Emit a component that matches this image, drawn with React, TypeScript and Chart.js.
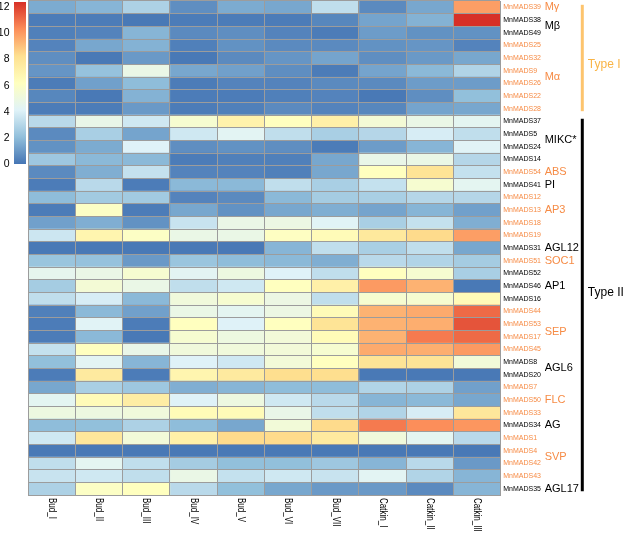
import React, { useEffect, useRef } from 'react';
import { Chart, registerables } from 'chart.js';

Chart.register(...registerables);

// ---------- data ----------
const genes = [
  'MnMADS39', 'MnMADS38', 'MnMADS49', 'MnMADS25', 'MnMADS32', 'MnMADS9', 'MnMADS26', 'MnMADS22', 'MnMADS28',
  'MnMADS37', 'MnMADS5', 'MnMADS24', 'MnMADS14', 'MnMADS54', 'MnMADS41', 'MnMADS12', 'MnMADS13', 'MnMADS18',
  'MnMADS19', 'MnMADS31', 'MnMADS51', 'MnMADS52', 'MnMADS46', 'MnMADS16', 'MnMADS44', 'MnMADS53', 'MnMADS17',
  'MnMADS45', 'MnMADS8', 'MnMADS20', 'MnMADS7', 'MnMADS50', 'MnMADS33', 'MnMADS34', 'MnMADS1', 'MnMADS4',
  'MnMADS42', 'MnMADS43', 'MnMADS35',
];
// 1 = orange label, 0 = black label
const geneHighlighted = [
  1, 0, 0, 1, 1, 1, 1, 1, 1,
  0, 0, 0, 0, 1, 0, 1, 1, 1, 1, 0, 1,
  0, 0, 0, 1, 1, 1, 1, 0, 0, 1, 1, 1, 0, 1, 1, 1, 1, 0,
];

const columns = ['Bud_I', 'Bud_II', 'Bud_III', 'Bud_IV', 'Bud_V', 'Bud_VI', 'Bud_VII', 'Catkin_I', 'Catkin_II', 'Catkin_III'];

const budI = [1.5, 0.2, 0.3, 0.4, 0.7, 0.9, 0.2, 0.5, 0.2, 3.1, 0.6, 0.8, 2.4, 0.6, 0.2, 2.0, 0.2, 1.2, 3.6, 0.1, 2.3, 4.5, 2.6, 3.3, 0.3, 0.2, 0.2, 3.4, 2.1, 0.2, 1.4, 4.4, 5.0, 2.0, 3.7, 0.1, 3.3, 3.5, 2.8];
const budII = [1.8, 0.2, 0.4, 1.4, 0.1, 2.2, 1.2, 0.1, 0.2, 4.7, 2.7, 1.5, 1.9, 1.6, 3.1, 2.5, 6.0, 1.6, 6.9, 0.1, 2.2, 4.8, 5.4, 3.9, 1.9, 4.2, 1.9, 6.2, 4.3, 7.6, 2.7, 6.5, 5.0, 2.1, 7.8, 0.1, 4.4, 3.7, 6.0];
const budIII = [2.8, 0.1, 1.8, 1.7, 1.0, 4.8, 2.0, 1.7, 1.0, 3.7, 1.3, 4.1, 1.9, 3.4, 0.2, 2.5, 0.2, 0.8, 6.0, 0.1, 1.0, 5.6, 4.8, 1.9, 1.2, 0.2, 0.1, 4.7, 1.8, 0.2, 2.4, 7.4, 5.2, 2.8, 5.3, 0.1, 3.3, 3.3, 6.2];
const budIV = [0.7, 0.2, 0.6, 0.3, 0.1, 1.4, 0.2, 0.2, 0.2, 5.6, 3.7, 0.7, 0.2, 0.4, 1.9, 0.4, 1.4, 3.5, 4.8, 0.1, 2.3, 4.3, 3.3, 5.2, 4.8, 6.2, 5.6, 5.2, 4.1, 6.9, 1.6, 4.1, 6.5, 2.0, 7.2, 0.1, 2.6, 4.8, 3.1];
const budV = [1.5, 0.2, 0.7, 0.8, 0.6, 1.2, 0.4, 0.2, 0.3, 7.1, 4.3, 0.8, 0.3, 0.4, 1.9, 0.6, 0.8, 4.8, 4.8, 0.1, 2.0, 5.0, 3.7, 5.6, 4.4, 4.1, 5.0, 5.2, 3.7, 7.6, 1.8, 5.0, 6.5, 1.4, 8.4, 0.1, 2.1, 3.4, 2.1];
const budVI = [1.4, 0.2, 0.4, 0.6, 0.9, 0.7, 0.4, 0.3, 0.6, 6.2, 3.3, 0.7, 0.3, 0.3, 3.3, 1.9, 1.4, 4.9, 6.1, 1.8, 1.9, 4.1, 6.2, 4.9, 4.9, 6.2, 5.3, 5.3, 5.3, 8.3, 2.0, 3.7, 4.7, 5.3, 8.4, 0.1, 2.1, 3.7, 1.4];
const budVII = [3.3, 0.5, 0.2, 0.6, 1.3, 0.2, 0.6, 0.4, 0.4, 7.2, 2.7, 0.2, 1.4, 1.4, 2.7, 2.6, 1.6, 4.2, 6.5, 3.3, 1.6, 3.3, 7.2, 3.3, 6.5, 8.0, 6.5, 5.6, 6.2, 8.3, 2.0, 3.1, 3.3, 8.4, 7.6, 0.1, 2.4, 3.5, 1.0];
const catkinI = [0.6, 1.3, 1.1, 0.8, 0.7, 1.3, 0.6, 0.1, 0.5, 5.4, 3.0, 1.1, 4.7, 6.2, 3.4, 2.7, 1.3, 2.7, 7.7, 2.7, 3.1, 6.2, 10.0, 5.6, 9.4, 9.4, 9.4, 9.6, 8.0, 0.1, 2.9, 1.8, 2.9, 10.75, 5.2, 0.1, 1.8, 4.3, 1.0];
const catkinII = [1.4, 1.7, 0.8, 0.9, 1.0, 1.9, 1.1, 0.7, 1.3, 4.8, 3.9, 1.8, 4.8, 8.0, 5.6, 3.0, 1.8, 3.4, 8.4, 3.3, 2.9, 5.6, 9.4, 5.6, 9.6, 9.5, 10.75, 9.5, 8.0, 0.1, 2.8, 1.9, 3.9, 10.3, 4.4, 0.1, 3.1, 2.9, 0.6];
const catkinIII = [9.9, 12.4, 0.8, 0.4, 1.4, 2.9, 1.1, 2.1, 1.4, 4.4, 3.3, 4.2, 3.0, 3.4, 4.4, 3.0, 1.2, 1.6, 9.9, 1.4, 2.6, 2.7, 0.1, 6.5, 11.1, 11.6, 11.1, 10.0, 5.3, 0.1, 1.2, 1.4, 7.8, 10.1, 3.1, 0.1, 1.0, 1.8, 1.8];

// family labels (row position = index in genes, may be between rows)
const familyNames = ['Mγ', 'Mβ', 'Mα', 'MIKC*', 'ABS', 'PI', 'AP3', 'AGL12', 'SOC1', 'AP1', 'SEP', 'AGL6', 'FLC', 'AG', 'SVP', 'AGL17'];
const familyRows = [0, 1.5, 5.5, 10.5, 13, 14, 16, 19, 20, 22, 25.6, 28.5, 31, 33, 35.5, 38];
const familyHighlighted = [1, 0, 1, 0, 1, 0, 1, 0, 1, 0, 1, 0, 1, 0, 1, 0];

// type brackets
const typeNames = ['Type I', 'Type II'];
const typeFirstRow = [0, 9];
const typeLastRow = [8, 38];
const typeLabelRow = [4.55, 22.5];

// colour scale
const legendMin = 0;
const legendMax = 12.4;
const legendTicks = [0, 2, 4, 6, 8, 10, 12];
const paletteStops = ['#4575B4', '#91BFDB', '#E0F3F8', '#FFFFBF', '#FEE090', '#FC8D59', '#D73027'];

// ---------- styling ----------
const ORANGE = '#F68B45';
const TYPE1_LINE = '#FDC46E';
const TYPE1_TEXT = '#F9B446';
const GRID = '#9c9c9c';
const SANS = "'Liberation Sans', Arial, Helvetica, sans-serif";

function hexToRgb(h: string) {
  const n = parseInt(h.slice(1), 16);
  return [(n >> 16) & 255, (n >> 8) & 255, n & 255];
}
const stopRgb = paletteStops.map(hexToRgb);

function colorFor(v: number) {
  const t = Math.max(0, Math.min(1, (v - legendMin) / (legendMax - legendMin))) * (stopRgb.length - 1);
  const i = Math.min(stopRgb.length - 2, Math.floor(t));
  const f = t - i;
  const a = stopRgb[i];
  const b = stopRgb[i + 1];
  const c = a.map((x, k) => Math.round(x + (b[k] - x) * f));
  return `rgb(${c[0]},${c[1]},${c[2]})`;
}

export default function App() {
  const mainRef = useRef<HTMLCanvasElement>(null);
  const legendRef = useRef<HTMLCanvasElement>(null);

  useEffect(() => {
    const seriesByColumn = [budI, budII, budIII, budIV, budV, budVI, budVII, catkinI, catkinII, catkinIII];

    const annot = {
      id: 'heatAnnot',
      afterDraw(chart: any) {
        const { ctx } = chart;
        const xs = chart.scales.x;
        const ys = chart.scales.y;
        const fam = chart.scales.fam;
        const rowH = ys.getPixelForValue(1) - ys.getPixelForValue(0);
        ctx.save();
        // column labels (rotated clockwise, slightly condensed)
        ctx.fillStyle = '#000';
        ctx.font = `10px ${SANS}`;
        ctx.textAlign = 'left';
        ctx.textBaseline = 'middle';
        columns.forEach((name, c) => {
          const px = xs.getPixelForValue(c + 0.5);
          ctx.save();
          ctx.translate(px, ys.bottom + 3);
          ctx.rotate(Math.PI / 2);
          ctx.scale(0.8, 1);
          ctx.fillText(name, 0, 0);
          ctx.restore();
        });
        // type brackets
        const bx = fam.right + 1.6;
        typeNames.forEach((name, i) => {
          const top = ys.getPixelForValue(typeFirstRow[i]) - rowH / 2 + 0.3 * rowH;
          const bot = ys.getPixelForValue(typeLastRow[i]) + rowH / 2 - 0.3 * rowH;
          ctx.strokeStyle = i === 0 ? TYPE1_LINE : '#000';
          ctx.lineWidth = 3;
          ctx.beginPath();
          ctx.moveTo(bx, top);
          ctx.lineTo(bx, bot);
          ctx.stroke();
          ctx.fillStyle = i === 0 ? TYPE1_TEXT : '#000';
          ctx.font = `12px ${SANS}`;
          ctx.textAlign = 'left';
          ctx.textBaseline = 'middle';
          ctx.fillText(name, bx + 5.5, fam.getPixelForValue(typeLabelRow[i]));
        });
        ctx.restore();
      },
    };

    const main = new Chart(mainRef.current as HTMLCanvasElement, {
      type: 'bar',
      data: {
        labels: genes,
        datasets: seriesByColumn.map((vals, c) => ({
          label: columns[c],
          data: vals.map(() => 1),
          backgroundColor: vals.map(colorFor),
          borderWidth: 0,
          barPercentage: 1,
          categoryPercentage: 1,
        })),
      },
      options: {
        indexAxis: 'y',
        responsive: false,
        animation: false,
        layout: { padding: { left: 28, top: 1, right: 44.3, bottom: 44 } },
        plugins: { legend: { display: false }, tooltip: { enabled: false } },
        scales: {
          x: {
            type: 'linear',
            stacked: true,
            min: 0,
            max: columns.length,
            position: 'bottom',
            ticks: { display: false, stepSize: 1 },
            grid: { color: GRID, lineWidth: 1, drawTicks: false, z: 1 },
            border: { color: GRID, z: 1 },
            afterFit: (s: any) => { s.height = 0; s.paddingLeft = 0; s.paddingRight = 0; },
          },
          y: {
            type: 'category',
            stacked: true,
            position: 'right',
            offset: true,
            grid: { offset: true, color: GRID, lineWidth: 1, drawTicks: false, z: 1 },
            border: { color: GRID, z: 1 },
            ticks: {
              autoSkip: false,
              padding: 2.5,
              font: { family: SANS, size: 7 },
              color: (ctx: any) => (geneHighlighted[ctx.index] ? ORANGE : '#000'),
            },
            afterFit: (s: any) => { s.width = 44; s.paddingTop = 0; s.paddingBottom = 0; },
          },
          fam: {
            type: 'linear',
            axis: 'y',
            position: 'right',
            weight: 1,
            offset: false,
            min: -0.5,
            max: genes.length - 0.5,
            reverse: true,
            grid: { display: false, drawTicks: false, offset: false },
            border: { display: false },
            afterBuildTicks: (s: any) => { s.ticks = familyRows.map((v) => ({ value: v })); },
            ticks: {
              autoSkip: false,
              padding: 0,
              font: { family: SANS, size: 11 },
              color: (ctx: any) => (familyHighlighted[ctx.index] ? ORANGE : '#000'),
              callback: (_v: any, i: number) => familyNames[i],
            },
            afterFit: (s: any) => { s.width = 36; s.paddingTop = 0; s.paddingBottom = 0; },
          },
        },
      },
      plugins: [annot],
    } as any);

    const legend = new Chart(legendRef.current as HTMLCanvasElement, {
      type: 'bar',
      data: {
        labels: ['scale'],
        datasets: [{
          data: [[legendMin, legendMax]],
          backgroundColor: (ctx: any) => {
            const ch = ctx.chart;
            const ys = ch.scales && ch.scales.y;
            if (!ch.chartArea || !ys) return paletteStops[0];
            const g = ch.ctx.createLinearGradient(0, ys.getPixelForValue(legendMin), 0, ys.getPixelForValue(legendMax));
            paletteStops.forEach((s, i) => g.addColorStop(i / (paletteStops.length - 1), s));
            return g;
          },
          borderWidth: 0,
          barPercentage: 1,
          categoryPercentage: 1,
        }],
      },
      options: {
        responsive: false,
        animation: false,
        layout: { padding: { top: 2, bottom: 6, left: 0, right: 0 } },
        plugins: { legend: { display: false }, tooltip: { enabled: false } },
        scales: {
          x: { display: false },
          y: {
            min: legendMin,
            max: legendMax,
            afterBuildTicks: (s: any) => { s.ticks = legendTicks.map((v) => ({ value: v })); },
            ticks: { padding: 4.5, color: '#000', font: { family: SANS, size: 10.5 } },
            grid: { display: false, drawTicks: false },
            border: { display: false },
            afterFit: (s: any) => { s.width = 14; s.paddingTop = 0; s.paddingBottom = 0; },
          },
        },
      },
    } as any);

    return () => {
      main.destroy();
      legend.destroy();
    };
  }, []);

  return (
    <div style={{ position: 'fixed', left: 0, top: 0, width: 625, height: 539, background: '#fff' }}>
      <canvas ref={mainRef} width={625} height={539} style={{ position: 'absolute', left: 0, top: 0, width: 625, height: 539 }} />
      <canvas ref={legendRef} width={26} height={170} style={{ position: 'absolute', left: 0, top: 0, width: 26, height: 170 }} />
    </div>
  );
}
